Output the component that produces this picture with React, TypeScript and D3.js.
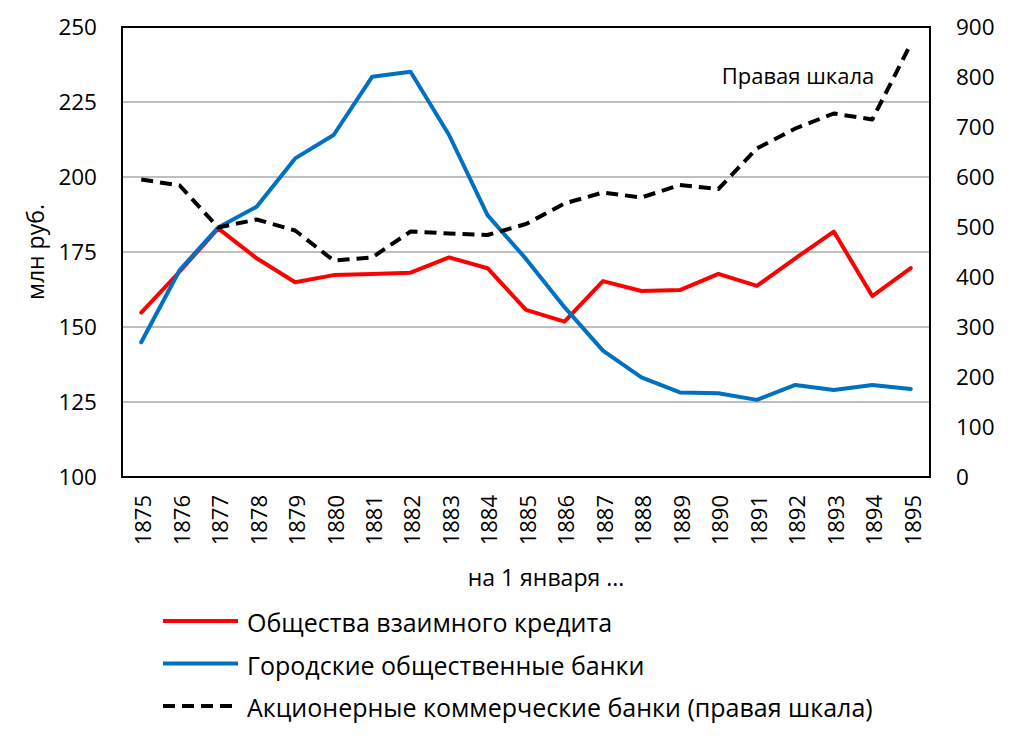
import React from 'react';
import * as d3 from 'd3';

const years = d3.range(1875, 1896).map(String);

// Общества взаимного кредита (левая шкала)
const mutualCredit = [154.8, 168.5, 182.9, 172.9, 164.9, 167.3, 167.7, 168.1, 173.2, 169.6, 155.7, 151.8, 165.3, 162, 162.3, 167.7, 163.7, 172.9, 181.8, 160.3, 169.6];
// Городские общественные банки (левая шкала)
const cityBanks = [144.9, 169, 183.2, 190.1, 206.2, 214, 233.4, 235.1, 214, 187.3, 172.7, 156.6, 142.1, 133.2, 128.2, 127.9, 125.7, 130.7, 129, 130.7, 129.3];
// Акционерные коммерческие банки (правая шкала)
const jointStock = [595, 583, 499, 515, 493, 433, 439, 491, 487, 484, 506, 547, 569, 559, 584, 576, 657, 697, 727, 715, 866];

const leftTicks = [100, 125, 150, 175, 200, 225, 250];
const rightTicks = [0, 100, 200, 300, 400, 500, 600, 700, 800, 900];

const legendItems = [
  { label: 'Общества взаимного кредита', color: '#ff0000', dash: '' },
  { label: 'Городские общественные банки', color: '#0070c0', dash: '' },
  { label: 'Акционерные коммерческие банки (правая шкала)', color: '#000000', dash: '12,7' },
];

const font = '"Open Sans", "Noto Sans", sans-serif';

export default function App() {
  const width = 1024;
  const height = 741;
  const margin = { top: 27, right: 94, bottom: 264, left: 122 };
  const x0 = margin.left;
  const x1 = width - margin.right;
  const y0 = height - margin.bottom;
  const y1 = margin.top;

  const x = d3.scaleBand<string>().domain(years).range([x0, x1]);
  const yL = d3.scaleLinear().domain([100, 250]).range([y0, y1]);
  const yR = d3.scaleLinear().domain([0, 900]).range([y0, y1]);
  const cx = (i: number) => (x(years[i]) ?? 0) + x.bandwidth() / 2;

  const lineL = d3.line<number>().x((_, i) => cx(i)).y((d) => yL(d));
  const lineR = d3.line<number>().x((_, i) => cx(i)).y((d) => yR(d));

  return (
    <svg width={width} height={height} style={{ position: 'absolute', left: 0, top: 0, background: '#fff' }} fontFamily={font}>
      <rect width={width} height={height} fill="#fff" />
      {/* gridlines */}
      {leftTicks.slice(1, -1).map((t) => (
        <line key={t} x1={x0} x2={x1} y1={yL(t)} y2={yL(t)} stroke="#bfbfbf" strokeWidth={2} />
      ))}
      {/* series */}
      <path d={lineL(mutualCredit) ?? ''} fill="none" stroke="#ff0000" strokeWidth={4} strokeLinejoin="round" strokeLinecap="round" />
      <path d={lineL(cityBanks) ?? ''} fill="none" stroke="#0070c0" strokeWidth={4} strokeLinejoin="round" strokeLinecap="round" />
      <path d={lineR(jointStock) ?? ''} fill="none" stroke="#000" strokeWidth={4} strokeDasharray="12,7" strokeLinejoin="round" />
      {/* frame */}
      <rect x={x0} y={y1} width={x1 - x0} height={y0 - y1} fill="none" stroke="#000" strokeWidth={2} />
      {/* left ticks */}
      {leftTicks.map((t) => (
        <text key={t} x={x0 - 25} y={yL(t)} dy="0.36em" textAnchor="end" fontSize={22.5} fill="#000">{t}</text>
      ))}
      {/* right ticks */}
      {rightTicks.map((t) => (
        <text key={t} x={x1 + 26} y={yR(t)} dy="0.36em" textAnchor="start" fontSize={22.5} fill="#000">{t}</text>
      ))}
      {/* x ticks */}
      {years.map((yr, i) => (
        <text key={yr} transform={`translate(${cx(i) + 2},${y0 + 18}) rotate(-90)`} dy="0.36em" textAnchor="end" fontSize={22} fill="#000">{yr}</text>
      ))}
      <text x={546} y={586} textAnchor="middle" fontSize={23} fill="#000">на 1 января ...</text>
      <text transform={`translate(36,${(y0 + y1) / 2}) rotate(-90)`} textAnchor="middle" dy="0.36em" fontSize={23} fill="#000">млн руб.</text>
      <text x={798} y={84} textAnchor="middle" fontSize={22} fill="#000">Правая шкала</text>
      {/* legend */}
      {legendItems.map((it, i) => {
        const ly = 621 + i * 42.5;
        return (
          <g key={it.label}>
            <line x1={163} x2={238} y1={ly} y2={ly} stroke={it.color} strokeWidth={4} strokeDasharray={it.dash || undefined} />
            <text x={247} y={ly + 2} dy="0.36em" fontSize={25} fill="#000">{it.label}</text>
          </g>
        );
      })}
    </svg>
  );
}
